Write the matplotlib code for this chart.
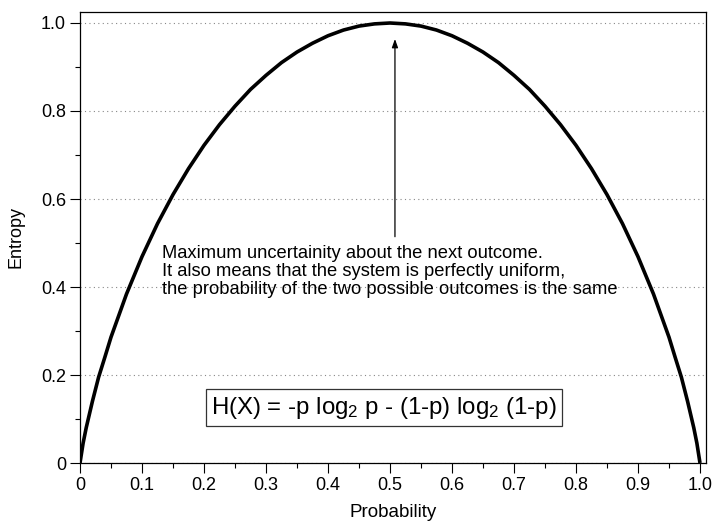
import matplotlib
matplotlib.use("Agg")
import matplotlib.pyplot as plt
from matplotlib.ticker import MultipleLocator

plt.rcParams['font.family'] = ['Liberation Sans', 'DejaVu Sans']
plt.rcParams['mathtext.default'] = 'regular'

# values (left half, right half mirrors it)
prob = [0.0, 0.005, 0.01, 0.02, 0.03, 0.04, 0.05, 0.075, 0.1, 0.125, 0.15, 0.175,
        0.2, 0.225, 0.25, 0.275, 0.3, 0.325, 0.35, 0.375, 0.4, 0.425, 0.45, 0.475, 0.5,
        0.525, 0.55, 0.575, 0.6, 0.625, 0.65, 0.675, 0.7, 0.725, 0.75, 0.775, 0.8,
        0.825, 0.85, 0.875, 0.9, 0.925, 0.95, 0.96, 0.97, 0.98, 0.99, 0.995, 1.0]
entropy = [0.0, 0.045, 0.08, 0.14, 0.195, 0.24, 0.286, 0.384, 0.469, 0.544, 0.61, 0.669,
           0.722, 0.769, 0.811, 0.849, 0.881, 0.91, 0.934, 0.954, 0.971, 0.984, 0.993, 0.998, 1.0,
           0.998, 0.993, 0.984, 0.971, 0.954, 0.934, 0.91, 0.881, 0.849, 0.811, 0.769, 0.722,
           0.669, 0.61, 0.544, 0.469, 0.384, 0.286, 0.24, 0.195, 0.14, 0.08, 0.045, 0.0]
xticks = [0, 0.1, 0.2, 0.3, 0.4, 0.5, 0.6, 0.7, 0.8, 0.9, 1.0]
xlabels = ['0', '0.1', '0.2', '0.3', '0.4', '0.5', '0.6', '0.7', '0.8', '0.9', '1.0']
yticks = [0, 0.2, 0.4, 0.6, 0.8, 1.0]
ylabels = ['0', '0.2', '0.4', '0.6', '0.8', '1.0']

fig = plt.figure(figsize=(7.12, 5.21), dpi=100)
ax = fig.add_axes([80 / 712, 58 / 521, 626 / 712, 451 / 521])

ax.plot(prob, entropy, color='black', linewidth=2.6, solid_capstyle='butt',
        solid_joinstyle='round')

ax.set_xlim(0, 1.0097)
ax.set_ylim(0, 1.025)
ax.set_xticks(xticks)
ax.set_xticklabels(xlabels)
ax.set_yticks(yticks)
ax.set_yticklabels(ylabels)
ax.xaxis.set_minor_locator(MultipleLocator(0.05))
ax.yaxis.set_minor_locator(MultipleLocator(0.1))
ax.tick_params(which='major', direction='out', length=7, width=0.8, labelsize=13, pad=3)
ax.tick_params(which='minor', direction='out', length=3.5, width=0.8)
ax.grid(True, axis='y', which='major', linestyle=(0, (1, 3)), color='#888888', linewidth=0.8)
for s in ax.spines.values():
    s.set_linewidth(0.9)

ax.set_xlabel('Probability', fontsize=13.5, labelpad=7)
ax.set_ylabel('Entropy', fontsize=13, labelpad=12)

ax.annotate('', xy=(0.508, 0.97), xytext=(0.508, 0.508),
            arrowprops=dict(arrowstyle='-|>,head_length=0.5,head_width=0.18',
                            color='black', linewidth=0.9))
ax.text(0.132, 0.496,
        'Maximum uncertainity about the next outcome.\n'
        'It also means that the system is perfectly uniform,\n'
        'the probability of the two possible outcomes is the same',
        fontsize=13.2, va='top', ha='left', linespacing=1.1)
ax.text(0.49, 0.126, 'H(X) = -p log$_2$ p - (1-p) log$_2$ (1-p)',
        fontsize=17.3, ha='center', va='center',
        bbox=dict(boxstyle='square,pad=0.22', facecolor='white', edgecolor='#333333', linewidth=0.9))

fig.savefig('out.png', dpi=100)
